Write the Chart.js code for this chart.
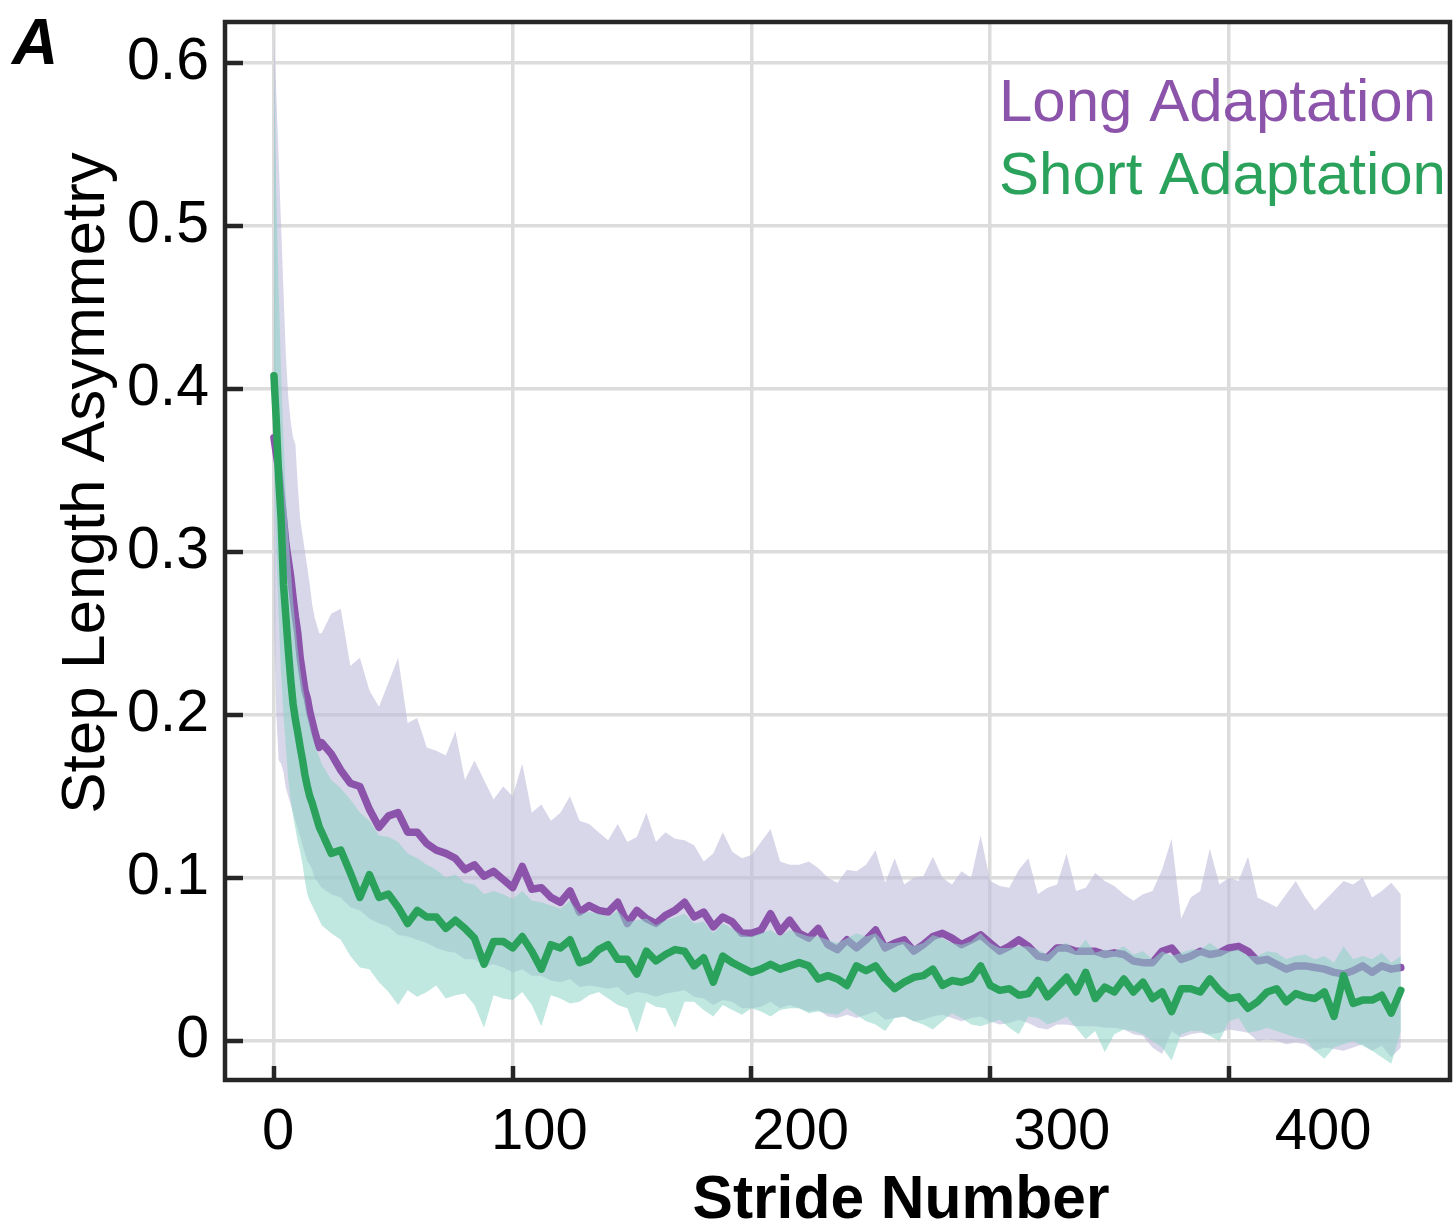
<!DOCTYPE html>
<html>
<head>
<meta charset="utf-8">
<script src="https://cdn.jsdelivr.net/npm/chart.js@4.4.1/dist/chart.umd.min.js"></script>
<style>
  html, body { margin: 0; padding: 0; background: #ffffff; }
  canvas { display: block; }
</style>
</head>
<body>
<canvas id="c" width="1454" height="1227"></canvas>
<script>
// ---- Data ----
const strides = [0,1,2,3,4,5,6,7,8,9,10,11,12,13,14,15,16,17,18,19,20,
  24,28,32,36,40,44,48,52,56,60,64,68,72,76,80,84,88,92,96,100,
  104,108,112,116,120,124,128,132,136,140,144,148,152,156,160,164,168,172,176,180,184,188,192,196,200,
  204,208,212,216,220,224,228,232,236,240,244,248,252,256,260,264,268,272,276,280,284,288,292,296,300,
  304,308,312,316,320,324,328,332,336,340,344,348,352,356,360,364,368,372,376,380,384,388,392,396,400,
  404,408,412,416,420,424,428,432,436,440,444,448,452,456,460,464,468,472];

const longMean = [0.37,0.36,0.35,0.335,0.32,0.305,0.295,0.285,0.272,0.26,0.25,0.235,0.225,0.215,0.21,0.202,0.196,0.19,0.185,0.18,0.183,
  0.176,0.166,0.158,0.156,0.142,0.131,0.138,0.14,0.128,0.128,0.121,0.117,0.115,0.112,0.105,0.108,0.101,0.104,0.099,0.094,
  0.107,0.093,0.094,0.088,0.085,0.092,0.079,0.083,0.08,0.079,0.085,0.072,0.08,0.075,0.072,0.077,0.08,0.085,0.076,0.079,0.07,0.076,0.073,0.066,0.066,
  0.068,0.078,0.067,0.074,0.066,0.063,0.069,0.059,0.056,0.062,0.057,0.062,0.068,0.057,0.06,0.062,0.055,0.059,0.064,0.066,0.063,0.059,0.062,0.065,0.06,
  0.055,0.058,0.062,0.058,0.052,0.051,0.057,0.057,0.055,0.055,0.055,0.053,0.054,0.053,0.049,0.048,0.048,0.055,0.057,0.05,0.052,0.055,0.053,0.054,0.057,
  0.058,0.055,0.049,0.05,0.047,0.044,0.046,0.046,0.045,0.044,0.042,0.041,0.043,0.046,0.042,0.046,0.044,0.045];

const longUpper = [0.62,0.58,0.54,0.50,0.46,0.42,0.395,0.38,0.37,0.366,0.34,0.32,0.31,0.30,0.29,0.28,0.268,0.26,0.255,0.25,0.25,
  0.262,0.265,0.23,0.235,0.215,0.205,0.22,0.235,0.195,0.198,0.18,0.178,0.175,0.19,0.16,0.172,0.16,0.148,0.156,0.15,
  0.17,0.14,0.145,0.135,0.14,0.15,0.135,0.133,0.128,0.123,0.133,0.122,0.125,0.14,0.122,0.128,0.124,0.123,0.12,0.11,0.115,0.128,0.116,0.112,0.114,
  0.122,0.13,0.11,0.108,0.108,0.11,0.106,0.1,0.097,0.105,0.104,0.108,0.117,0.097,0.112,0.096,0.1,0.101,0.113,0.1,0.096,0.104,0.1,0.126,0.098,
  0.095,0.094,0.105,0.112,0.09,0.094,0.096,0.115,0.092,0.094,0.103,0.098,0.095,0.09,0.086,0.09,0.092,0.105,0.124,0.075,0.088,0.092,0.118,0.096,0.1,
  0.098,0.113,0.088,0.085,0.082,0.09,0.098,0.088,0.08,0.086,0.092,0.098,0.096,0.1,0.088,0.092,0.097,0.09];

const longLower = [0.26,0.2,0.172,0.17,0.165,0.155,0.15,0.145,0.14,0.135,0.13,0.125,0.12,0.115,0.11,0.108,0.105,0.1,0.098,0.096,0.094,
  0.09,0.088,0.082,0.08,0.075,0.072,0.07,0.065,0.064,0.062,0.06,0.057,0.055,0.054,0.05,0.05,0.046,0.047,0.045,0.042,
  0.044,0.04,0.04,0.037,0.036,0.038,0.033,0.034,0.033,0.032,0.033,0.028,0.03,0.029,0.027,0.029,0.03,0.031,0.027,0.026,0.022,0.025,0.024,0.02,0.02,
  0.021,0.024,0.02,0.022,0.02,0.018,0.019,0.015,0.014,0.016,0.014,0.016,0.018,0.013,0.014,0.015,0.012,0.013,0.015,0.016,0.014,0.012,0.014,0.015,0.012,
  0.01,0.011,0.013,0.011,0.008,0.007,0.01,0.01,0.009,0.009,0.009,0.008,0.008,0.007,0.004,0.003,-0.004,-0.008,0.006,0.002,0.004,0.005,0.004,0.005,0.007,
  0.006,0.005,0.0,0.001,0.0,-0.002,-0.001,-0.002,-0.006,-0.004,-0.005,-0.006,-0.004,-0.002,-0.006,-0.003,-0.01,-0.004];

const shortMean = [0.408,0.38,0.345,0.32,0.28,0.26,0.24,0.222,0.207,0.197,0.189,0.18,0.172,0.163,0.156,0.15,0.146,0.141,0.136,0.131,0.128,
  0.115,0.117,0.103,0.088,0.102,0.088,0.09,0.082,0.072,0.08,0.076,0.076,0.069,0.074,0.069,0.063,0.047,0.061,0.061,0.057,
  0.064,0.055,0.044,0.059,0.057,0.062,0.048,0.05,0.056,0.059,0.05,0.05,0.041,0.055,0.049,0.053,0.056,0.055,0.046,0.051,0.036,0.052,0.048,0.045,0.042,
  0.044,0.047,0.044,0.046,0.048,0.046,0.038,0.04,0.038,0.034,0.046,0.043,0.046,0.038,0.032,0.036,0.039,0.04,0.044,0.034,0.037,0.036,0.038,0.046,0.034,
  0.031,0.032,0.028,0.029,0.037,0.027,0.033,0.039,0.03,0.042,0.026,0.033,0.03,0.038,0.03,0.036,0.026,0.03,0.018,0.032,0.032,0.03,0.038,0.031,0.026,
  0.027,0.02,0.024,0.03,0.032,0.024,0.029,0.027,0.026,0.03,0.015,0.04,0.023,0.025,0.025,0.028,0.017,0.031];

const shortUpper = [0.6,0.52,0.46,0.41,0.37,0.335,0.31,0.29,0.27,0.255,0.24,0.228,0.218,0.21,0.2,0.195,0.188,0.182,0.178,0.174,0.17,
  0.16,0.155,0.148,0.14,0.135,0.126,0.125,0.122,0.115,0.112,0.108,0.105,0.1,0.102,0.097,0.096,0.09,0.092,0.09,0.087,
  0.092,0.086,0.085,0.083,0.081,0.086,0.078,0.079,0.078,0.076,0.08,0.073,0.074,0.075,0.071,0.074,0.076,0.078,0.072,0.073,0.066,0.072,0.069,0.065,0.064,
  0.066,0.068,0.064,0.068,0.066,0.064,0.064,0.062,0.06,0.063,0.066,0.064,0.066,0.06,0.06,0.061,0.058,0.06,0.065,0.063,0.06,0.059,0.061,0.066,0.06,
  0.057,0.057,0.058,0.058,0.056,0.053,0.058,0.06,0.055,0.062,0.054,0.056,0.055,0.058,0.053,0.055,0.05,0.055,0.052,0.054,0.056,0.056,0.06,0.056,0.055,
  0.056,0.052,0.052,0.055,0.054,0.05,0.052,0.053,0.05,0.052,0.048,0.058,0.05,0.052,0.05,0.054,0.048,0.052];

const shortLower = [0.36,0.3,0.26,0.225,0.2,0.18,0.16,0.148,0.138,0.13,0.122,0.116,0.108,0.098,0.09,0.086,0.083,0.08,0.077,0.074,0.071,
  0.066,0.062,0.052,0.045,0.044,0.036,0.03,0.022,0.031,0.027,0.03,0.034,0.026,0.028,0.029,0.022,0.008,0.028,0.026,0.025,
  0.03,0.022,0.009,0.028,0.026,0.023,0.024,0.028,0.03,0.026,0.022,0.02,0.005,0.024,0.021,0.02,0.008,0.024,0.024,0.019,0.015,0.022,0.019,0.016,0.02,
  0.018,0.015,0.019,0.02,0.02,0.017,0.018,0.017,0.016,0.02,0.016,0.012,0.01,0.006,0.014,0.015,0.012,0.01,0.007,0.012,0.017,0.014,0.01,0.009,0.011,
  0.013,0.008,0.004,0.015,0.014,0.01,0.012,0.015,0.008,0.001,0.006,-0.007,0.004,0.007,0.006,0.004,0.0,-0.004,-0.012,0.004,0.006,0.006,0.003,0.0,0.012,
  0.014,0.005,0.006,0.008,0.006,0.004,0.002,0.001,-0.006,-0.011,-0.004,-0.002,0.0,-0.003,-0.006,-0.01,-0.014,0.006];

const xTicks = [0, 100, 200, 300, 400];
const yTicks = [0, 0.1, 0.2, 0.3, 0.4, 0.5, 0.6];
const seriesNames = ['Long Adaptation', 'Short Adaptation'];
const axisTitles = { x: 'Stride Number', y: 'Step Length Asymmetry' };
const panelLabel = 'A';

// ---- Styles ----
const FONT = "'Liberation Sans', Arial, Helvetica, sans-serif";
const PURPLE = '#8c53aa';
const GREEN = '#2ba25c';
const LAVENDER = 'rgba(190,186,218,0.6)';
const TEAL = 'rgba(141,211,199,0.55)';
const AXIS = '#262626';
const GRID = '#dcdcdc';

const pts = arr => arr.map((v, i) => ({ x: strides[i], y: v }));

const overlay = {
  id: 'overlay',
  afterDraw(chart) {
    const { ctx, chartArea: a, scales } = chart;
    ctx.save();
    ctx.strokeStyle = AXIS;
    ctx.lineWidth = 4.5;
    ctx.lineCap = 'butt';
    ctx.beginPath();
    yTicks.forEach(v => {
      const y = Math.round(scales.y.getPixelForValue(v));
      ctx.moveTo(a.left, y); ctx.lineTo(a.left + 18, y);
    });
    xTicks.forEach(v => {
      const x = Math.round(scales.x.getPixelForValue(v));
      ctx.moveTo(x, a.bottom); ctx.lineTo(x, a.bottom - 14);
    });
    ctx.stroke();
    ctx.lineWidth = 4.5;
    ctx.strokeRect(a.left, a.top, a.right - a.left, a.bottom - a.top);

    // legend text
    ctx.textAlign = 'left';
    ctx.textBaseline = 'alphabetic';
    ctx.font = `60px ${FONT}`;
    ctx.fillStyle = PURPLE;
    ctx.fillText(seriesNames[0], 999, 121);
    ctx.fillStyle = GREEN;
    ctx.fillText(seriesNames[1], 999, 194);

    // panel label
    ctx.fillStyle = '#000';
    ctx.font = `italic bold 64px ${FONT}`;
    ctx.fillText(panelLabel, 12, 64);

    // x title
    ctx.textAlign = 'center';
    ctx.font = `bold 60.5px ${FONT}`;
    ctx.fillText(axisTitles.x, 901, 1218);

    // y title
    ctx.save();
    ctx.translate(104, 483);
    ctx.rotate(-Math.PI / 2);
    ctx.font = `62px ${FONT}`;
    ctx.fillText(axisTitles.y, 0, 0);
    ctx.restore();
    ctx.restore();
  }
};

const lineDs = (label, data, color, order) => ({
  label, data: pts(data), borderColor: color, borderWidth: 7.5,
  pointRadius: 0, fill: false, tension: 0, order,
  borderJoinStyle: 'round', borderCapStyle: 'round'
});
const bandDs = (label, data, color, fill, order) => ({
  label, data: pts(data), borderColor: 'rgba(0,0,0,0)', borderWidth: 0,
  backgroundColor: color, pointRadius: 0, fill, tension: 0, order
});

new Chart(document.getElementById('c'), {
  type: 'line',
  data: {
    datasets: [
      bandDs(seriesNames[0] + ' upper', longUpper, LAVENDER, '+1', 6),
      bandDs(seriesNames[0] + ' lower', longLower, LAVENDER, false, 5),
      lineDs(seriesNames[0], longMean, PURPLE, 4),
      bandDs(seriesNames[1] + ' upper', shortUpper, TEAL, '+1', 3),
      bandDs(seriesNames[1] + ' lower', shortLower, TEAL, false, 2),
      lineDs(seriesNames[1], shortMean, GREEN, 1)
    ]
  },
  options: {
    responsive: false,
    animation: false,
    events: [],
    layout: { autoPadding: false, padding: { left: 0, top: 22, right: 4, bottom: 0 } },
    plugins: { legend: { display: false }, tooltip: { enabled: false } },
    scales: {
      x: {
        type: 'linear', position: 'bottom', min: -20.5, max: 492.6,
        afterBuildTicks: s => { s.ticks = xTicks.map(v => ({ value: v })); },
        grid: { color: GRID, lineWidth: 3.5, drawTicks: false },
        border: { display: false },
        ticks: { display: false },
        afterFit: s => { s.height = 0; }
      },
      xl: {
        type: 'linear', position: 'bottom', min: -20.29, max: 448.6,
        afterBuildTicks: s => { s.ticks = xTicks.map(v => ({ value: v })); },
        grid: { display: false, drawTicks: false },
        border: { display: false },
        ticks: { color: '#000', font: { family: FONT, size: 58, lineHeight: 0.6 }, padding: 36, maxRotation: 0,
                 callback: v => String(v) },
        afterFit: s => { s.height = 147; }
      },
      y: {
        type: 'linear', min: -0.024, max: 0.625,
        afterBuildTicks: s => { s.ticks = yTicks.map(v => ({ value: v })); },
        grid: { color: GRID, lineWidth: 3.5, drawTicks: false },
        border: { display: false },
        ticks: { color: '#000', font: { family: FONT, size: 59, lineHeight: 0.1 }, padding: 16,
                 callback: v => (v === 0 ? '0' : v.toFixed(1)) },
        afterFit: s => { s.width = 225; }
      }
    }
  },
  plugins: [overlay]
});
</script>
</body>
</html>
